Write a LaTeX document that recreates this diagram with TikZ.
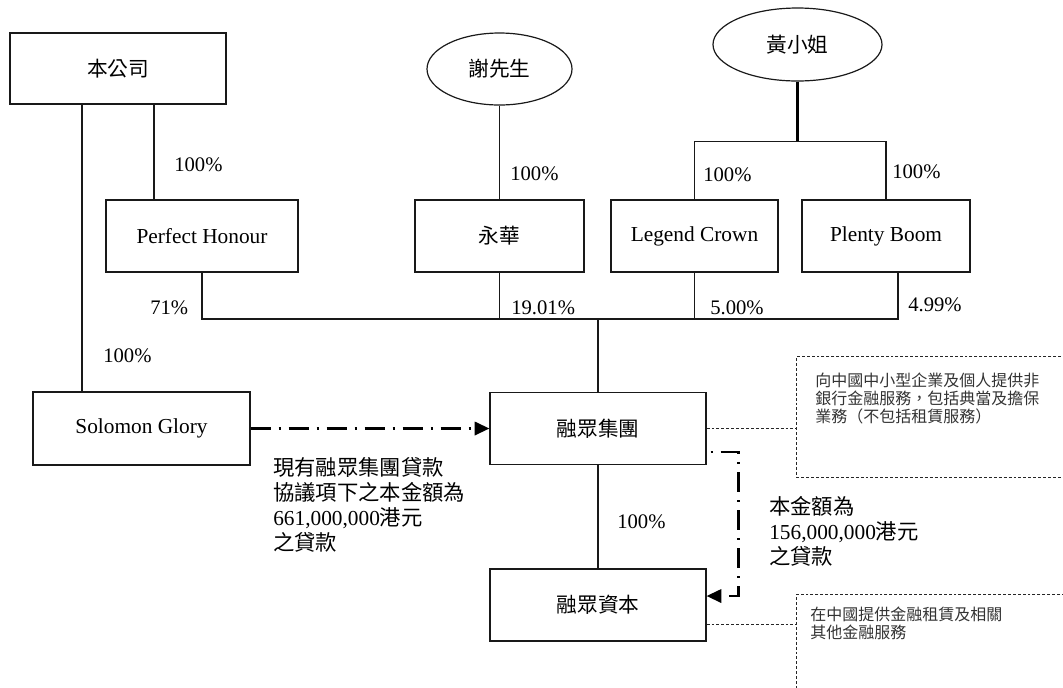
\documentclass[tikz,border=0pt]{standalone}
\usepackage{fontspec}
\setmainfont{Liberation Serif}
\newfontfamily\cjk{Noto Sans CJK TC}
\usetikzlibrary{shapes.geometric,arrows.meta,calc}
\begin{document}
\begin{tikzpicture}[x=0.75pt,y=-0.75pt,
  every node/.style={inner sep=0pt,text=black},
  ln/.style={draw=black!90,line width=0.9pt},
  thickln/.style={draw=black,line width=1.7pt},
  box/.style={ln,rectangle,font=\fontsize{16}{18.75}\selectfont},
  oval/.style={ln,ellipse,font=\fontsize{15.5}{18.75}\selectfont},
  pct/.style={anchor=west,font=\fontsize{15.5}{18.75}\selectfont},
  loan/.style={draw=black,line width=1.7pt,dash pattern=on 15pt off 6pt on 1.5pt off 6pt},
  loanb/.style={draw=black,line width=1.7pt,dash pattern=on 1.5pt off 6pt on 15pt off 6pt},
  loantip/.style={-{Triangle[length=11pt,width=10pt]}},
  loantext/.style={anchor=north west,align=left,font=\fontsize{16}{18.75}\selectfont},
  notebox/.style={draw=black!85,line width=0.7pt,dash pattern=on 2.2pt off 1.5pt,rectangle,anchor=north west},
  notetext/.style={anchor=north west,align=left,text=black!80,font=\fontsize{12}{13.5}\selectfont\cjk},
  noteln/.style={draw=black!85,line width=0.7pt,dash pattern=on 2.2pt off 1.5pt}]
\useasboundingbox (0,0) rectangle (1063,687);
\clip (0,0) rectangle (1063,687);

% nodes
\node[box,minimum width=162pt,minimum height=53.25pt] (gs) at (118,68.5) {\cjk\fontsize{15.5}{18.75}\selectfont 本公司};
\node[box,minimum width=144pt,minimum height=54pt] (ph) at (202,236) {Perfect Honour};
\node[oval,minimum width=108.75pt,minimum height=54pt] (xie) at (499.5,69) {\cjk 謝先生};
\node[box,minimum width=126.75pt,minimum height=54pt] (yh) at (499.5,236) {\cjk\fontsize{15.5}{18.75}\selectfont 永華};
\node[oval,minimum width=126.75pt,minimum height=54.75pt] (huang) at (797.5,44.5) {\cjk 黃小姐};
\node[box,minimum width=125.25pt,minimum height=54pt] (lc) at (694.5,236) {Legend Crown};
\node[box,minimum width=126pt,minimum height=54pt] (pb) at (886,236) {Plenty Boom};
\node[box,minimum width=162.75pt,minimum height=54.75pt] (sg) at (141.5,428.5) {Solomon Glory};
\node[box,minimum width=162pt,minimum height=54pt] (rzg) at (598,428.5) {\cjk\fontsize{15.5}{18.75}\selectfont 融眾集團};
\node[box,minimum width=162pt,minimum height=54pt] (rzc) at (598,605) {\cjk\fontsize{15.5}{18.75}\selectfont 融眾資本};

\node[notebox,minimum width=213pt,minimum height=90.75pt] (n1) at (796,356) {};
\node[notebox,minimum width=213pt,minimum height=82.5pt] (n2) at (796,594) {};
\node[notetext] (n1t) at (815,373) {向中國中小型企業及個人提供非\\銀行金融服務，包括典當及擔保\\業務（不包括租賃服務）};
\node[notetext] (n2t) at (810,607) {在中國提供金融租賃及相關\\其他金融服務};

% percentages
\node[pct] (p1) at (174,165) {100\%};
\node[pct] (p2) at (150,308) {71\%};
\node[pct] (p3) at (103,356) {100\%};
\node[pct] (p4) at (510,174) {100\%};
\node[pct] (p5) at (511,308) {19.01\%};
\node[pct] (p6) at (703,175) {100\%};
\node[pct] (p7) at (892,172) {100\%};
\node[pct] (p8) at (710,308) {5.00\%};
\node[pct] (p9) at (908,305) {4.99\%};
\node[pct] (p10) at (617,522) {100\%};

% loan texts
\node[loantext] (t1) at (273,457) {{\cjk 現有融眾集團貸款}\\{\cjk 協議項下之本金額為}\\661,000,000{\cjk 港元}\\{\cjk 之貸款}};
\node[loantext] (t2) at (769,496) {{\cjk 本金額為}\\156,000,000{\cjk 港元}\\{\cjk 之貸款}};

% ownership connectors
\coordinate (gsL) at ($(gs.south)+(-36,0)$);
\coordinate (gsR) at ($(gs.south)+(36,0)$);
\draw[ln] (gsL) -- (gsL |- sg.north);
\draw[ln] (gsR) -- (gsR |- ph.north);
\draw[ln] (xie.south) -- (yh.north);
\coordinate (hub) at ($(huang.south)+(0,60)$);
\draw[thickln] (huang.south) -- (hub);
\draw[ln] (lc.north) -- (lc.north |- hub) -- (pb.north |- hub) -- (pb.north);
\coordinate (pbB) at ($(pb.south)+(12,0)$);
\coordinate (bar) at ($(rzg.north)+(0,-73)$);
\draw[ln] (ph.south) -- (ph.south |- bar) -- (pbB |- bar) -- (pbB);
\draw[ln] (yh.south) -- (yh.south |- bar);
\draw[ln] (lc.south) -- (lc.south |- bar);
\draw[ln] (bar) -- (rzg.north);
\draw[ln] (rzg.south) -- (rzc.north);

% loans
\draw[loan,loantip] (sg.east) -- (rzg.west);
\coordinate (l2a) at ($(rzg.south east)+(4,-13)$);
\coordinate (l2b) at ($(rzc.east)+(0,-9)$);
\draw[loanb,loantip] (l2a) -- ++(28,0) |- (l2b);

% note connectors
\draw[noteln] (rzg.east) -- (n1.west |- rzg.east);
\coordinate (rzcN) at ($(rzc.east)+(0,19)$);
\draw[noteln] (rzcN) -- (n2.west |- rzcN);
\end{tikzpicture}
\end{document}
